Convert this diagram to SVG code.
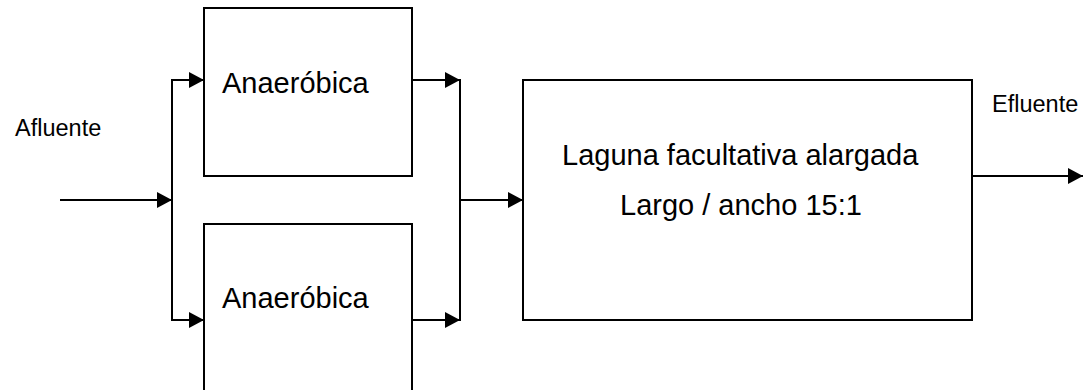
<svg xmlns="http://www.w3.org/2000/svg" width="1087" height="390" viewBox="0 0 1087 390">
<defs>
<marker id="ah" viewBox="0 0 15 16" refX="15" refY="8" markerWidth="15" markerHeight="16" markerUnits="userSpaceOnUse" orient="auto">
<path d="M0,0 L15,8 L0,16 Z" fill="#000"/>
</marker>
<style>
.box{fill:#fff;stroke:#000;stroke-width:2}
.edge{fill:none;stroke:#000;stroke-width:2}
.lbl{font-family:"Liberation Sans",Arial,sans-serif;fill:#000}
.big{font-size:29px}
.small{font-size:23.5px}
</style>
</defs>
<rect width="1087" height="390" fill="#fff"/>
<g id="connectors">
<line class="edge" x1="60" y1="200" x2="172" y2="200" marker-end="url(#ah)"/>
<line class="edge" x1="172" y1="80" x2="172" y2="320"/>
<line class="edge" x1="171" y1="80" x2="204" y2="80" marker-end="url(#ah)"/>
<line class="edge" x1="171" y1="320" x2="204" y2="320" marker-end="url(#ah)"/>
<line class="edge" x1="412" y1="80" x2="460" y2="80" marker-end="url(#ah)"/>
<line class="edge" x1="412" y1="320" x2="460" y2="320" marker-end="url(#ah)"/>
<line class="edge" x1="460" y1="79" x2="460" y2="321"/>
<line class="edge" x1="460" y1="200" x2="523" y2="200" marker-end="url(#ah)"/>
<line class="edge" x1="972" y1="176" x2="1083" y2="176" marker-end="url(#ah)"/>
</g>
<g id="afluente"><text class="lbl small" x="15" y="136">Afluente</text></g>
<g id="efluente"><text class="lbl small" x="992" y="112">Efluente</text></g>
<g id="anaerobica1">
<rect class="box" x="204" y="8" width="208" height="168"/>
<text class="lbl big" x="222" y="93">Anaeróbica</text>
</g>
<g id="anaerobica2">
<path class="box" d="M204,400 L204,224 L412,224 L412,400"/>
<text class="lbl big" x="222" y="308">Anaeróbica</text>
</g>
<g id="laguna">
<rect class="box" x="523" y="80" width="449" height="240"/>
<text class="lbl big" x="562" y="165">Laguna facultativa alargada</text>
<text class="lbl big" x="620" y="215">Largo / ancho 15:1</text>
</g>
</svg>
